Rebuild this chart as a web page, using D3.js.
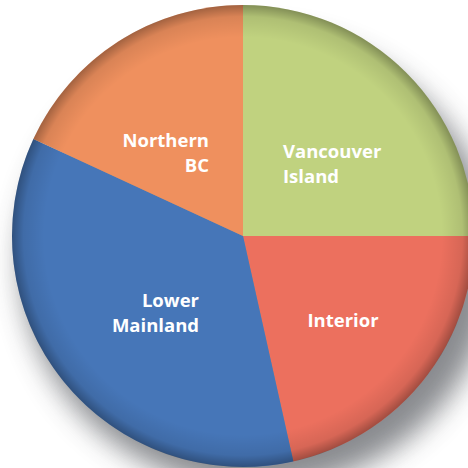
<!DOCTYPE html>
<html><head><meta charset="utf-8">
<script src="https://cdn.jsdelivr.net/npm/d3@7"></script>
<style>html,body{margin:0;padding:0;background:#fff;}svg{display:block;}</style>
</head><body>
<script>
const regions = ["Vancouver Island", "Interior", "Lower Mainland", "Northern BC"];
const shares = [25.0, 21.5, 35.4, 18.1];
const colors = ["#C0D27F", "#EC705E", "#4676B8", "#EF905E"];
const labelLines = [["Vancouver", "Island"], ["Interior"], ["Lower", "Mainland"], ["Northern", "BC"]];

const W = 468, H = 468, cx = 243, cy = 236, R = 231;
const svg = d3.select("body").append("svg").attr("width", W).attr("height", H);
const defs = svg.append("defs");

const blur = defs.append("filter").attr("id", "shadow").attr("x", "-30%").attr("y", "-30%").attr("width", "160%").attr("height", "160%");
blur.append("feGaussianBlur").attr("stdDeviation", 14);

const rg = defs.append("radialGradient").attr("id", "edge").attr("cx", "50%").attr("cy", "50%").attr("r", "50%");
rg.append("stop").attr("offset", "0.86").attr("stop-color", "#000").attr("stop-opacity", 0);
rg.append("stop").attr("offset", "0.95").attr("stop-color", "#000").attr("stop-opacity", 0.09);
rg.append("stop").attr("offset", "1").attr("stop-color", "#000").attr("stop-opacity", 0.32);

// shadow beneath
svg.append("ellipse").attr("cx", cx + 15).attr("cy", cy + 26).attr("rx", R + 6).attr("ry", R - 4)
  .attr("fill", "#7d7f83").attr("opacity", 0.9).attr("filter", "url(#shadow)");

const pie = d3.pie().sort(null).value(d => d)(shares);
const arc = d3.arc().innerRadius(0).outerRadius(R);
const g = svg.append("g").attr("transform", `translate(${cx},${cy})`);
g.selectAll("path.slice").data(pie).join("path").attr("class", "slice")
  .attr("d", arc).attr("fill", (d, i) => colors[i]);

g.append("circle").attr("r", R).attr("fill", "url(#edge)");

const labelPos = [
  {x: 283 - cx, y: 158 - cy, anchor: "start"},
  {x: 343 - cx, y: 327 - cy, anchor: "middle"},
  {x: 199 - cx, y: 307 - cy, anchor: "end"},
  {x: 209 - cx, y: 147 - cy, anchor: "end"}
];
labelLines.forEach((lines, i) => {
  const t = g.append("text").attr("text-anchor", labelPos[i].anchor)
    .attr("font-family", "'Open Sans', sans-serif").attr("font-weight", 700)
    .attr("font-size", 18.5).attr("fill", "#fff");
  lines.forEach((ln, j) => {
    t.append("tspan").attr("x", labelPos[i].x).attr("y", labelPos[i].y + j * 24.5).text(ln);
  });
});
</script>
</body></html>
